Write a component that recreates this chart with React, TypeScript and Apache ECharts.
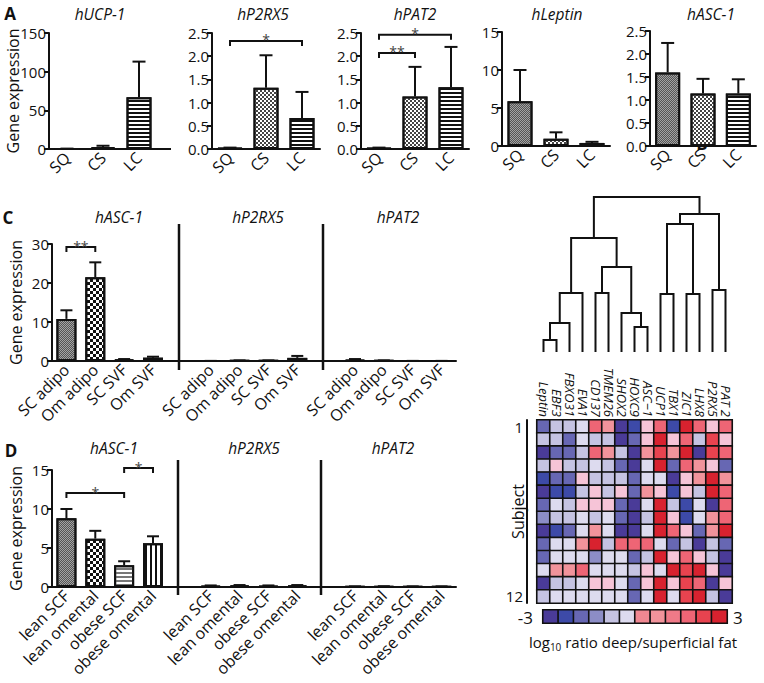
import React, { useEffect, useRef } from 'react';
import * as echarts from 'echarts';

// ---------------- Data ----------------
const groupsA = ['SQ', 'CS', 'LC'];
const titlesA = ['hUCP-1', 'hP2RX5', 'hPAT2', 'hLeptin', 'hASC-1'];
const ucp1Mean = [0.3, 2.5, 67];
const ucp1Upper = [0.5, 4.2, 113];
const p2rx5Mean = [0.02, 1.32, 0.67];
const p2rx5Upper = [0.03, 2.02, 1.23];
const pat2Mean = [0.02, 1.13, 1.33];
const pat2Upper = [0.03, 1.77, 2.2];
const leptinMean = [5.9, 0.95, 0.4];
const leptinUpper = [10.0, 1.8, 0.55];
const asc1Mean = [1.6, 1.14, 1.14];
const asc1Upper = [2.24, 1.46, 1.45];
const yMaxA = [150, 2.5, 2.5, 15, 2.5];
const yStepA = [50, 0.5, 0.5, 5, 0.5];
const yDecimalsA = [0, 1, 1, 0, 1];
const sigP2rx5A = [[0, 2, 2.33]];
const sigP2rx5ALabels = ['*'];
const sigPat2A = [[0, 1, 2.07], [0, 2, 2.46]];
const sigPat2ALabels = ['**', '*'];

const genesCD = ['hASC-1', 'hP2RX5', 'hPAT2'];
const groupsC = ['SC adipo', 'Om adipo', 'SC SVF', 'Om SVF'];
const cAsc1Mean = [10.8, 21.5, 0.35, 0.85];
const cAsc1Upper = [13.0, 25.3, 0.5, 1.1];
const cP2rx5Mean = [0.02, 0.1, 0.1, 0.8];
const cP2rx5Upper = [0.03, 0.15, 0.15, 1.3];
const cPat2Mean = [0.3, 0.1, 0.02, 0.02];
const cPat2Upper = [0.5, 0.15, 0.03, 0.03];
const sigC = [[0, 1, 29.2]];
const sigCLabels = ['**'];

const groupsD = ['lean SCF', 'lean omental', 'obese SCF', 'obese omental'];
const dAsc1Mean = [8.8, 6.2, 2.8, 5.6];
const dAsc1Upper = [10.0, 7.2, 3.3, 6.5];
const dP2rx5Mean = [0.15, 0.2, 0.15, 0.2];
const dP2rx5Upper = [0.2, 0.25, 0.2, 0.25];
const dPat2Mean = [0.06, 0.08, 0.06, 0.06];
const dPat2Upper = [0.08, 0.1, 0.08, 0.08];
const sigD = [[0, 2, 12.05], [2, 3, 15.25]];
const sigDLabels = ['*', '*'];

const genesB = ['Leptin', 'EBF3', 'FBXO31', 'EVA1', 'CD137', 'TMEM26', 'SHOX2', 'HOXC9', 'ASC\u22121', 'UCP1', 'TBX1', 'ZIC1', 'LHX8', 'P2RX5', 'PAT 2'];
const subjectTickLabels = ['1', '', '', '', '', '', '', '', '', '', '', '', '', '12'];
const heatRows = [
  [-1.75, -0.75, -0.75, -0.25, 1.75, 0.6, -2.75, -2.25, 0.1, 1.75, -2.25, 2.75, 1.75, 0.1, 1.75],
  [-0.75, -0.75, -1.75, -0.25, -0.75, -0.75, -2.75, -1.75, 0.1, 2.75, 0.1, 1.75, -0.75, 2.25, 0.1],
  [-2.75, -1.75, -1.75, -0.75, 1.75, 0.6, -0.75, -2.75, 0.6, 2.25, 0.6, 2.75, -2.75, 2.25, 1.75],
  [-0.75, 0.1, -0.75, -0.75, -0.25, -0.75, -1.75, -2.75, -0.25, 2.75, -1.75, 1.75, 0.6, 0.1, -1.75],
  [-2.25, -1.75, -1.75, 0.1, -0.75, -0.75, -0.75, -1.75, -0.25, -0.25, -2.75, 0.1, 0.6, 2.75, 0.6],
  [-2.75, -2.25, -2.25, -0.75, 0.1, -0.75, 0.1, -1.75, 0.6, 0.1, -2.25, 0.1, -0.75, 2.75, 1.75],
  [-1.75, -0.25, -0.75, 0.1, 0.1, 0.1, -1.75, -2.75, -0.25, 2.75, -0.75, -2.25, -0.25, -2.75, 1.75],
  [-1.25, -0.75, -0.75, -0.25, -0.75, -0.25, -1.75, -2.75, -0.75, 2.75, 0.1, -2.25, -0.25, 0.6, 1.75],
  [-2.75, -2.25, -1.75, -0.25, 0.6, -0.25, -2.75, -2.75, -0.25, 2.75, 1.75, 0.1, -1.75, 0.6, 2.75],
  [-1.75, -0.25, -0.25, 0.6, 2.75, -0.75, 1.75, 1.75, 1.75, -0.25, -1.75, -0.75, -2.75, -0.75, -1.75],
  [-1.75, -0.25, -0.25, -0.25, -1.25, -0.25, -0.25, -1.75, -0.75, 2.75, 0.1, 1.75, 0.1, -0.75, -2.75],
  [-0.25, 0.6, 0.6, 1.75, -0.25, -0.25, -0.25, -0.75, 0.1, -0.25, 2.75, 2.25, 2.75, 0.1, -2.75],
  [-2.75, -0.75, -0.75, -0.25, 0.1, 0.1, -0.25, -1.75, 0.1, 2.75, 0.1, 2.25, 1.75, -2.75, 0.1],
  [-0.75, -0.25, -0.25, -0.25, -0.25, -0.25, -0.25, -1.75, -0.25, 2.75, -0.25, 2.25, 2.75, -0.75, -2.75],
];
const legendValues = [-2.75, -2.25, -1.75, -1.25, -0.75, -0.25, 0.25, 0.75, 1.25, 1.75, 2.25, 2.75];
const legendEndLabels = ['-3', '3'];
// dendrogram merges: [childA, childB, height]; leaves 0..14, merged clusters numbered from 15
const dendroMerges = [
  [0, 1, 12], [15, 2, 29], [16, 3, 59], [4, 5, 59], [7, 8, 25], [6, 19, 39], [18, 20, 85], [17, 21, 114],
  [9, 10, 58], [11, 12, 58], [23, 24, 128], [13, 14, 62], [25, 26, 138], [22, 27, 155],
];

// ---------------- Styles / layout ----------------
const FONT = "'Open Sans', 'Noto Sans', sans-serif";
const INK = '#111';
const XTICK_FS = 16;
const YTICK_FS = 15;
const gridsA = [
  { left: 49, top: 33, width: 108, height: 116 },
  { left: 212, top: 33, width: 108, height: 116 },
  { left: 361, top: 33, width: 108, height: 116 },
  { left: 502, top: 32, width: 108, height: 114 },
  { left: 650, top: 31, width: 106, height: 115 },
];
const gridC = { left: 50, top: 244, width: 406, height: 117 };
const gridD = { left: 50, top: 470, width: 406, height: 117 };
const gridDendro = { left: 537, top: 197, width: 195, height: 155 };
const gridHeat = { left: 537, top: 420, width: 195, height: 183 };
const gridLegend = { left: 543, top: 610, width: 184, height: 13 };

const dec = (color: string, dashArrayX: any, dashArrayY: any) => ({ symbol: 'rect', symbolSize: 1, color, dashArrayX, dashArrayY });
const PAT: Record<string, any> = {
  grayFine: { color: '#a3a3a3', decal: dec('#555', [[1, 1], [0, 1, 1, 0]], [1, 0]) },
  checkSmall: { color: '#ffffff', decal: dec('#444', [[1.5, 1.5], [0, 1.5, 1.5, 0]], [1.5, 0]) },
  checkBig: { color: '#ffffff', decal: dec('#111', [[3, 3], [0, 3, 3, 0]], [3, 0]) },
  hStripes: { color: '#ffffff', decal: dec('#111', [1, 0], [1.6, 1.1]) },
  hStripesGray: { color: '#ffffff', decal: dec('#777', [1, 0], [1.2, 1.8]) },
  vStripes: { color: '#ffffff', decal: dec('#111', [1.5, 3], [1, 0]) },
};
const patternsA = ['grayFine', 'checkSmall', 'hStripes'];
const patternsC = ['grayFine', 'checkBig', 'hStripes', 'vStripes'];
const patternsD = ['grayFine', 'checkBig', 'hStripesGray', 'vStripes'];

const heatPieces = [
  { lt: -2.5, color: '#4a3b98' },
  { gte: -2.5, lt: -2, color: '#3d4aa8' },
  { gte: -2, lt: -1.5, color: '#6767b3' },
  { gte: -1.5, lt: -1, color: '#8c8dc6' },
  { gte: -1, lt: -0.5, color: '#c5c3e2' },
  { gte: -0.5, lt: 0, color: '#dddbef' },
  { gte: 0, lt: 0.2, color: '#f6c4d7' },
  { gte: 0.2, lt: 0.5, color: '#f08892' },
  { gte: 0.5, lt: 1, color: '#f1939b' },
  { gte: 1, lt: 1.5, color: '#f07a88' },
  { gte: 1.5, lt: 2, color: '#ee6575' },
  { gte: 2, lt: 2.5, color: '#e8434f' },
  { gte: 2.5, color: '#d8222f' },
];

const lineStyle = { color: INK, width: 2 };

function text(x: number, y: number, t: string, extra: any = {}) {
  return {
    type: 'text', x, y, silent: true,
    style: { text: t, fill: INK, fontFamily: FONT, fontSize: 14, align: 'center', verticalAlign: 'middle', textAlign: 'center', textVerticalAlign: 'middle', ...extra },
  };
}
function vline(x: number, y1: number, y2: number, w = 2.5) {
  return { type: 'line', silent: true, shape: { x1: x, y1, x2: x, y2 }, style: { stroke: INK, lineWidth: w } };
}

function errorRender(capHalf: number) {
  return (params: any, api: any) => {
    const x = api.value(0);
    const base = api.coord([x, api.value(1)]);
    const top = api.coord([x, api.value(2)]);
    return {
      type: 'group',
      children: [
        { type: 'line', shape: { x1: base[0], y1: base[1], x2: top[0], y2: top[1] }, style: { stroke: INK, lineWidth: 2 } },
        { type: 'line', shape: { x1: top[0] - capHalf, y1: top[1], x2: top[0] + capHalf, y2: top[1] }, style: { stroke: INK, lineWidth: 2 } },
      ],
    };
  };
}
function bracketRender(labels: string[]) {
  return (params: any, api: any) => {
    const a = api.coord([api.value(0), api.value(2)]);
    const b = api.coord([api.value(1), api.value(2)]);
    const drop = 5;
    return {
      type: 'group',
      children: [
        { type: 'polyline', shape: { points: [[a[0], a[1] + drop], [a[0], a[1]], [b[0], b[1]], [b[0], b[1] + drop]] }, style: { stroke: INK, lineWidth: 2, fill: 'none' } },
        { type: 'text', style: { text: labels[params.dataIndex], x: (a[0] + b[0]) / 2, y: a[1] - 1, align: 'center', verticalAlign: 'middle', textAlign: 'center', textVerticalAlign: 'middle', fontSize: 14, lineHeight: 8, fontFamily: FONT, fill: '#444' } },
      ],
    };
  };
}

function buildOption() {
  const meansA = [ucp1Mean, p2rx5Mean, pat2Mean, leptinMean, asc1Mean];
  const uppersA = [ucp1Upper, p2rx5Upper, pat2Upper, leptinUpper, asc1Upper];

  const slotLabels = (g: string[]) => [...g, '', ...g, '', ...g];
  const slotVals = (a: number[], b: number[], c: number[]) => [...a, null, ...b, null, ...c];
  const slotsC = slotLabels(groupsC);
  const slotsD = slotLabels(groupsD);
  const cMeans = slotVals(cAsc1Mean, cP2rx5Mean, cPat2Mean);
  const cUppers = slotVals(cAsc1Upper, cP2rx5Upper, cPat2Upper);
  const dMeans = slotVals(dAsc1Mean, dP2rx5Mean, dPat2Mean);
  const dUppers = slotVals(dAsc1Upper, dP2rx5Upper, dPat2Upper);

  const grids: any[] = [...gridsA, gridC, gridD, gridDendro, { ...gridHeat, show: true, borderColor: INK, borderWidth: 2 }, { ...gridLegend, show: true, borderColor: INK, borderWidth: 2 }];
  const xAxes: any[] = [];
  const yAxes: any[] = [];
  const series: any[] = [];

  const catAxis = (gridIndex: number, data: string[], tickInterval?: any) => ({
    type: 'category', gridIndex, data,
    axisLine: { lineStyle },
    axisTick: { alignWithLabel: true, length: 5, lineStyle, interval: tickInterval ?? 0 },
    axisLabel: { rotate: 45, fontSize: XTICK_FS, color: INK, margin: 6, interval: 0 },
  });
  const valAxis = (gridIndex: number, max: number, step: number, decimals: number, name: string) => ({
    type: 'value', gridIndex, min: 0, max, interval: step,
    axisLine: { show: true, lineStyle },
    axisTick: { show: true, length: 5, lineStyle },
    splitLine: { show: false },
    axisLabel: { fontSize: YTICK_FS, color: INK, margin: 3, formatter: (v: number) => v.toFixed(decimals) },
    name, nameLocation: 'middle', nameGap: 28, nameMoveOverlap: false, nameTextStyle: { fontSize: 16, color: INK },
  });

  // Panel A
  gridsA.forEach((_, i) => {
    xAxes.push(catAxis(i, groupsA));
    yAxes.push(valAxis(i, yMaxA[i], yStepA[i], yDecimalsA[i], i === 0 ? 'Gene expression' : ''));
  });
  gridsA.forEach((_, i) => {
    series.push({
      type: 'bar', xAxisIndex: i, yAxisIndex: i, barWidth: 25,
      data: meansA[i].map((v, j) => ({ value: v, itemStyle: { ...PAT[patternsA[j]], borderColor: INK, borderWidth: 2 } })),
      emphasis: { disabled: true },
    });
  });
  gridsA.forEach((_, i) => {
    series.push({
      type: 'custom', xAxisIndex: i, yAxisIndex: i, renderItem: errorRender(6.5), z: 5,
      encode: { x: 0, y: [1, 2] },
      data: meansA[i].map((v, j) => [j, v, uppersA[i][j]]),
    });
  });
  series.push({ type: 'custom', xAxisIndex: 1, yAxisIndex: 1, renderItem: bracketRender(sigP2rx5ALabels), data: sigP2rx5A, encode: { x: [0, 1], y: 2 }, z: 6 });
  series.push({ type: 'custom', xAxisIndex: 2, yAxisIndex: 2, renderItem: bracketRender(sigPat2ALabels), data: sigPat2A, encode: { x: [0, 1], y: 2 }, z: 6 });

  // Panels C and D
  const cdPanels = [
    { gi: 5, slots: slotsC, means: cMeans, uppers: cUppers, pats: patternsC, max: 30, step: 10, sig: sigC, sigLabels: sigCLabels },
    { gi: 6, slots: slotsD, means: dMeans, uppers: dUppers, pats: patternsD, max: 15, step: 5, sig: sigD, sigLabels: sigDLabels },
  ];
  cdPanels.forEach((p) => {
    xAxes.push(catAxis(p.gi, p.slots, (idx: number) => p.slots[idx] !== ''));
    yAxes.push(valAxis(p.gi, p.max, p.step, 0, 'Gene expression'));
    series.push({
      type: 'bar', xAxisIndex: p.gi, yAxisIndex: p.gi, barWidth: 20,
      data: p.means.map((v, j) => (v === null ? '-' : { value: v, itemStyle: { ...PAT[p.pats[j % 5]], borderColor: INK, borderWidth: 2 } })),
      emphasis: { disabled: true },
    });
    const err: any[] = [];
    p.means.forEach((v, j) => { if (v !== null) err.push([j, v, p.uppers[j]]); });
    series.push({ type: 'custom', xAxisIndex: p.gi, yAxisIndex: p.gi, renderItem: errorRender(6), z: 5, encode: { x: 0, y: [1, 2] }, data: err });
    series.push({ type: 'custom', xAxisIndex: p.gi, yAxisIndex: p.gi, renderItem: bracketRender(p.sigLabels), data: p.sig, encode: { x: [0, 1], y: 2 }, z: 6 });
  });

  // Dendrogram (grid 7)
  xAxes.push({ type: 'value', gridIndex: 7, min: -0.5, max: genesB.length - 0.5, show: false });
  yAxes.push({ type: 'value', gridIndex: 7, min: 0, max: 155, show: false });
  const pos: number[] = genesB.map((_, i) => i);
  const hgt: number[] = genesB.map(() => 0);
  const dendroData = dendroMerges.map(([a, b, h]) => {
    const item = [pos[a], hgt[a], pos[b], hgt[b], h];
    pos.push((pos[a] + pos[b]) / 2);
    hgt.push(h);
    return item;
  });
  series.push({
    type: 'custom', xAxisIndex: 7, yAxisIndex: 7, encode: { x: [0, 2], y: [1, 3, 4] },
    data: dendroData,
    renderItem: (params: any, api: any) => {
      const p1 = api.coord([api.value(0), api.value(1)]);
      const p2 = api.coord([api.value(0), api.value(4)]);
      const p3 = api.coord([api.value(2), api.value(4)]);
      const p4 = api.coord([api.value(2), api.value(3)]);
      return { type: 'polyline', shape: { points: [p1, p2, p3, p4] }, style: { stroke: INK, lineWidth: 2, fill: 'none' } };
    },
  });

  // Heatmap (grid 8)
  xAxes.push({
    type: 'category', gridIndex: 8, data: genesB, position: 'top',
    axisLine: { show: false }, axisTick: { show: false },
    axisLabel: { rotate: 90, interval: 0, fontSize: 13, fontStyle: 'italic', color: INK, margin: 3 },
  });
  yAxes.push({
    type: 'category', gridIndex: 8, data: subjectTickLabels, inverse: true, offset: 10,
    axisLine: { show: true, lineStyle }, axisTick: { show: false },
    axisLabel: { interval: 0, fontSize: 15, color: INK, margin: 4 },
    name: 'Subject', nameLocation: 'middle', nameGap: 1, nameRotate: 90, nameMoveOverlap: false,
    nameTextStyle: { fontSize: 16, color: INK },
  });
  const heatData: any[] = [];
  heatRows.forEach((row, r) => row.forEach((v, c) => heatData.push([c, r, v])));
  const heatIdx = series.length;
  series.push({
    type: 'heatmap', xAxisIndex: 8, yAxisIndex: 8, data: heatData,
    itemStyle: { borderColor: INK, borderWidth: 1.6 }, emphasis: { disabled: true },
  });

  // Legend strip (grid 9)
  xAxes.push({ type: 'category', gridIndex: 9, data: legendValues.map(String), show: false });
  yAxes.push({ type: 'category', gridIndex: 9, data: ['scale'], show: false });
  series.push({
    type: 'heatmap', xAxisIndex: 9, yAxisIndex: 9, data: legendValues.map((v, i) => [i, 0, v]),
    itemStyle: { borderColor: INK, borderWidth: 1.6 }, emphasis: { disabled: true },
  });

  const graphic: any[] = [
    text(10, 13, 'A', { fontWeight: 'bold', fontSize: 17 }),
    text(8, 217, 'C', { fontWeight: 'bold', fontSize: 17 }),
    text(11, 450, 'D', { fontWeight: 'bold', fontSize: 17 }),
    text(702, 143, 'B', { fontWeight: 'bold', fontSize: 17 }),
    { type: 'line', silent: true, shape: { x1: 156, y1: 149, x2: 171, y2: 149 }, style: { stroke: INK, lineWidth: 2 } },
    vline(179, 224, 370), vline(323, 224, 370),
    vline(178, 460, 595), vline(321, 460, 595),
    text(533, 617, legendEndLabels[0], { fontSize: 17, align: 'right', textAlign: 'right' }),
    text(733, 617, legendEndLabels[1], { fontSize: 17, align: 'left', textAlign: 'left' }),
    {
      type: 'text', x: 633, y: 642, silent: true,
      style: {
        text: '{a|log}{b|10}{a| ratio deep/superficial fat}', fill: INK, fontFamily: FONT,
        align: 'center', verticalAlign: 'middle', textAlign: 'center', textVerticalAlign: 'middle',
        rich: { a: { fontSize: 15, lineHeight: 20, fontFamily: FONT, fill: INK }, b: { fontSize: 10, lineHeight: 20, verticalAlign: 'bottom', fontFamily: FONT, fill: INK } },
      },
    },
  ];
  const titleXA = [100, 263, 415, 557, 711];
  titlesA.forEach((t, i) => graphic.push(text(titleXA[i], 14, t, { fontStyle: 'italic', fontSize: 15.5, lineHeight: 16 })));
  const titleXC = [119, 258, 398];
  const titleXD = [114, 254, 393];
  genesCD.forEach((t, i) => graphic.push(text(titleXC[i], 217, t, { fontStyle: 'italic', fontSize: 15.5 })));
  genesCD.forEach((t, i) => graphic.push(text(titleXD[i], 448, t, { fontStyle: 'italic', fontSize: 15.5 })));

  return {
    animation: false,
    backgroundColor: '#ffffff',
    textStyle: { fontFamily: FONT, color: INK },
    grid: grids,
    xAxis: xAxes,
    yAxis: yAxes,
    visualMap: { type: 'piecewise', show: false, seriesIndex: [heatIdx, heatIdx + 1], dimension: 2, pieces: heatPieces },
    series,
    graphic,
  };
}

export default function App() {
  const ref = useRef<HTMLDivElement>(null);
  useEffect(() => {
    if (!ref.current) return;
    const chart = echarts.init(ref.current, null, { renderer: 'svg' });
    chart.setOption(buildOption() as any);
    return () => chart.dispose();
  }, []);
  return <div ref={ref} style={{ position: 'fixed', left: 0, top: 0, width: 764, height: 683, background: '#fff' }} />;
}
